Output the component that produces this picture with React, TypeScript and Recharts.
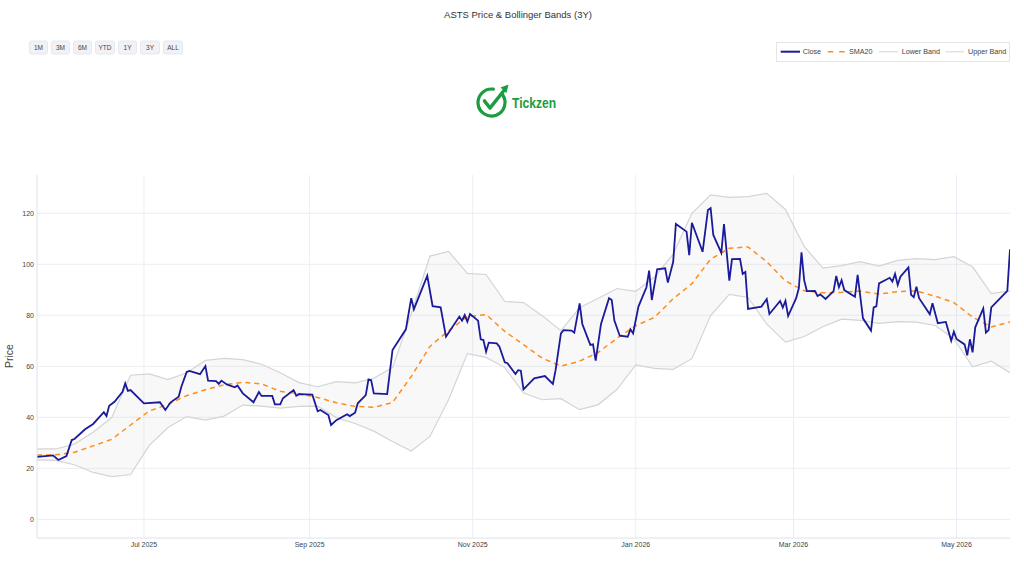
import { ComposedChart, Line, Area, XAxis, YAxis, CartesianGrid } from "recharts"

// daily closes (turning points only), grouped by month
const closeDates = [
  "2025-05-22", "2025-05-28", "2025-05-30",
  "2025-06-02", "2025-06-04", "2025-06-05", "2025-06-09", "2025-06-12", "2025-06-16", "2025-06-17", "2025-06-18", "2025-06-20", "2025-06-23", "2025-06-24", "2025-06-25", "2025-06-26",
  "2025-07-01", "2025-07-07", "2025-07-09", "2025-07-11", "2025-07-14", "2025-07-15", "2025-07-17", "2025-07-18", "2025-07-22", "2025-07-24", "2025-07-25", "2025-07-28", "2025-07-29", "2025-07-30",
  "2025-08-01", "2025-08-04", "2025-08-05", "2025-08-07", "2025-08-11", "2025-08-13", "2025-08-14", "2025-08-18", "2025-08-19", "2025-08-21", "2025-08-22", "2025-08-26", "2025-08-27", "2025-08-28",
  "2025-09-02", "2025-09-04", "2025-09-05", "2025-09-08", "2025-09-09", "2025-09-11", "2025-09-15", "2025-09-16", "2025-09-18", "2025-09-19", "2025-09-22", "2025-09-23", "2025-09-24", "2025-09-25", "2025-09-30",
  "2025-10-02", "2025-10-07", "2025-10-09", "2025-10-10", "2025-10-15", "2025-10-17", "2025-10-20", "2025-10-22", "2025-10-27", "2025-10-28", "2025-10-29", "2025-10-30", "2025-10-31",
  "2025-11-03", "2025-11-04", "2025-11-05", "2025-11-06", "2025-11-07", "2025-11-10", "2025-11-11", "2025-11-13", "2025-11-14", "2025-11-17", "2025-11-18", "2025-11-19", "2025-11-20", "2025-11-24", "2025-11-28",
  "2025-12-01", "2025-12-02", "2025-12-04", "2025-12-05", "2025-12-08", "2025-12-09", "2025-12-11", "2025-12-12", "2025-12-15", "2025-12-16", "2025-12-17", "2025-12-19", "2025-12-22", "2025-12-23", "2025-12-24", "2025-12-26", "2025-12-29", "2025-12-30", "2025-12-31",
  "2026-01-02", "2026-01-05", "2026-01-06", "2026-01-07", "2026-01-09", "2026-01-12", "2026-01-13", "2026-01-15", "2026-01-16", "2026-01-20", "2026-01-21", "2026-01-22", "2026-01-26", "2026-01-28", "2026-01-29", "2026-01-30",
  "2026-02-02", "2026-02-03", "2026-02-05", "2026-02-06", "2026-02-09", "2026-02-10", "2026-02-11", "2026-02-12", "2026-02-17", "2026-02-19", "2026-02-20", "2026-02-24", "2026-02-25", "2026-02-26", "2026-02-27",
  "2026-03-02", "2026-03-03", "2026-03-04", "2026-03-05", "2026-03-06", "2026-03-09", "2026-03-10", "2026-03-11", "2026-03-13", "2026-03-16", "2026-03-17", "2026-03-18", "2026-03-19", "2026-03-20", "2026-03-24", "2026-03-25", "2026-03-27", "2026-03-30", "2026-03-31",
  "2026-04-01", "2026-04-02", "2026-04-06", "2026-04-07", "2026-04-08", "2026-04-09", "2026-04-10", "2026-04-13", "2026-04-14", "2026-04-15", "2026-04-16", "2026-04-17", "2026-04-21", "2026-04-22", "2026-04-24", "2026-04-27", "2026-04-29", "2026-04-30",
  "2026-05-01", "2026-05-04", "2026-05-05", "2026-05-06", "2026-05-07", "2026-05-08", "2026-05-11", "2026-05-12", "2026-05-13", "2026-05-14", "2026-05-20", "2026-05-21",
]

const closePrices = [
  24.5, 25.1, 23.3,
  24.8, 31.1, 31.5, 35.3, 37.4, 42.0, 40.5, 44.5, 46.1, 50.0, 53.3, 50.4, 50.7,
  45.5, 45.9, 42.9, 45.9, 48.1, 52.0, 57.8, 58.2, 56.9, 60.1, 54.4, 54.2, 53.1, 54.4,
  52.9, 51.8, 52.5, 49.4, 45.9, 49.9, 48.4, 48.4, 45.1, 45.1, 47.5, 50.7, 48.5, 49.1,
  48.9, 42.4, 42.9, 40.9, 37.0, 38.9, 41.2, 40.5, 41.8, 45.5, 48.7, 54.9, 54.6, 49.4, 49.1,
  66.4, 74.5, 86.7, 82.4, 95.5, 83.6, 83.1, 71.6, 79.5, 77.9, 80.1, 77.5, 80.5,
  77.9, 70.6, 70.3, 65.7, 69.3, 69.0, 67.7, 61.6, 61.2, 57.0, 58.5, 58.3, 51.0, 55.3, 56.2,
  53.1, 58.5, 72.9, 74.2, 74.0, 73.2, 84.7, 76.6, 68.4, 68.6, 62.2, 76.6, 86.7, 86.0, 77.9, 72.0, 71.6, 74.5, 72.9,
  83.4, 91.0, 97.5, 86.0, 98.0, 98.4, 92.8, 101.0, 115.8, 112.8, 103.6, 116.3, 104.9, 121.3, 122.0, 111.5,
  104.5, 115.8, 93.6, 102.0, 102.1, 96.2, 97.0, 82.5, 83.4, 86.4, 80.5, 85.6, 83.0, 85.7, 79.7,
  86.7, 90.6, 104.7, 93.8, 89.5, 89.6, 87.6, 88.2, 86.4, 89.5, 95.4, 91.0, 93.8, 89.9, 87.3, 95.9, 78.8, 74.0, 83.1,
  83.5, 92.5, 94.7, 93.2, 96.2, 91.9, 95.1, 98.8, 88.0, 87.1, 91.2, 86.7, 80.4, 84.7, 76.9, 77.4, 70.0, 73.6,
  70.7, 68.6, 64.3, 70.6, 65.5, 75.3, 82.7, 73.2, 74.2, 83.1, 89.6, 105.9,
]

// weekly samples of the 20-day SMA and Bollinger bands
const bandDates = [
  "2025-05-22", "2025-05-29", "2025-06-05", "2025-06-12", "2025-06-19", "2025-06-26", "2025-07-03", "2025-07-10", "2025-07-17", "2025-07-24",
  "2025-07-31", "2025-08-07", "2025-08-14", "2025-08-21", "2025-08-28", "2025-09-04", "2025-09-11", "2025-09-18", "2025-09-25", "2025-10-02",
  "2025-10-09", "2025-10-16", "2025-10-23", "2025-10-30", "2025-11-06", "2025-11-13", "2025-11-20", "2025-11-27", "2025-12-04", "2025-12-11",
  "2025-12-18", "2025-12-25", "2026-01-01", "2026-01-08", "2026-01-15", "2026-01-22", "2026-01-29", "2026-02-05", "2026-02-12", "2026-02-19",
  "2026-02-26", "2026-03-05", "2026-03-12", "2026-03-19", "2026-03-26", "2026-04-02", "2026-04-09", "2026-04-16", "2026-04-23", "2026-04-30",
  "2026-05-07", "2026-05-14", "2026-05-21",
]

const sma20 = [
  25.2, 25.3, 26.3, 28.8, 31.4, 37.0, 42.5, 45.1, 48.5, 50.8,
  52.8, 53.7, 53.1, 50.2, 49.3, 47.8, 45.7, 44.3, 43.9, 45.8,
  56.0, 67.8, 74.0, 79.5, 80.3, 73.7, 68.5, 63.2, 60.1, 62.0,
  65.5, 71.0, 75.9, 79.2, 86.5, 92.4, 102.0, 106.3, 106.8, 101.0,
  93.5, 89.6, 88.8, 89.0, 89.5, 88.3, 89.3, 89.5, 87.5, 85.0,
  79.3, 75.4, 77.4,
]

const upperBand = [
  27.6, 27.6, 29.5, 34.2, 40.0, 56.5, 57.0, 54.8, 57.5, 62.3,
  63.1, 62.6, 60.8, 57.5, 53.6, 52.0, 54.0, 53.5, 55.3, 59.5,
  80.5, 103.2, 105.0, 96.4, 96.0, 85.4, 85.0, 79.8, 74.0, 83.0,
  86.7, 90.5, 89.4, 95.0, 104.0, 120.0, 127.2, 126.2, 126.5, 127.8,
  121.5, 107.0, 98.5, 99.5, 101.0, 99.3, 101.5, 102.2, 101.8, 103.0,
  99.0, 88.5, 89.6,
]

const lowerBand = [
  23.3, 23.1, 21.4, 18.4, 16.8, 17.6, 29.0, 36.0, 40.3, 38.9,
  40.5, 44.8, 44.4, 43.6, 44.3, 44.4, 39.9, 37.6, 34.6, 30.5,
  26.8, 32.5, 47.0, 65.0, 63.5, 59.5, 49.5, 46.9, 47.3, 43.0,
  45.0, 51.0, 60.6, 59.2, 58.8, 63.0, 79.9, 88.2, 87.0, 76.5,
  69.5, 71.7, 75.5, 78.5, 78.0, 76.8, 77.5, 77.3, 76.0, 70.8,
  59.8, 62.0, 57.5,
]

const xTickDates = ["2025-07-01", "2025-09-01", "2025-11-01", "2026-01-01", "2026-03-01", "2026-05-01"]
const yTicks = [0, 20, 40, 60, 80, 100, 120]
const rangeButtons = ["1M", "3M", "6M", "YTD", "1Y", "3Y", "ALL"]

const MONTHS = ["Jan", "Feb", "Mar", "Apr", "May", "Jun", "Jul", "Aug", "Sep", "Oct", "Nov", "Dec"]
const ts = (d: string) => Date.parse(d)
const fmtMonth = (t: number) => {
  const d = new Date(t)
  return `${MONTHS[d.getUTCMonth()]} ${d.getUTCFullYear()}`
}

const closeRows = closeDates.map((d, i) => ({ t: ts(d), close: closePrices[i] }))
const bandRows = bandDates.map((d, i) => ({
  t: ts(d),
  sma: sma20[i],
  lower: lowerBand[i],
  upper: upperBand[i],
  band: [lowerBand[i], upperBand[i]],
}))
const xTicks = xTickDates.map(ts)

const FONT = '"Liberation Sans", Arial, Helvetica, sans-serif'
const NAVY = "#1a1a9a"
const ORANGE = "#ff8c1a"
const BAND = "#d4d4d4"
const GREEN = "#1c9c40"

// grid only at the tick values, no frame lines at the plot edges
const scaleOf = (axis: any) => {
  const s = axis?.scale
  if (typeof s === "function") return s
  if (s && typeof s.map === "function") return (v: number) => s.map(v)
  return null
}
const hGrid = ({ yAxis }: any) => {
  const s = scaleOf(yAxis)
  return s ? yTicks.map((v) => s(v)) : []
}
const vGrid = ({ xAxis }: any) => {
  const s = scaleOf(xAxis)
  return s ? xTicks.map((v) => s(v)) : []
}

function RangeSelector() {
  const widths = rangeButtons.map((b) => (b.length > 2 || b === "3Y" ? 19 : 18))
  let x = 0.5
  return (
    <svg style={{ position: "absolute", left: 29, top: 40 }} width={160} height={16}>
      {rangeButtons.map((b, i) => {
        const bx = x
        x += widths[i] + 4
        return (
          <g key={b}>
            <rect x={bx} y={1} width={widths[i]} height={13} rx={2} fill="#f0f2f5" stroke="#e0e3e8" strokeWidth={0.8} />
            <text x={bx + widths[i] / 2} y={10} textAnchor="middle" fontSize={6.5} fill="#444" fontFamily={FONT}>
              {b}
            </text>
          </g>
        )
      })}
    </svg>
  )
}

function LegendBox() {
  return (
    <svg style={{ position: "absolute", left: 776, top: 42 }} width={235} height={21}>
      <rect x={0.5} y={0.5} width={233} height={19} fill="#fff" stroke="#e4e4e4" strokeWidth={1} />
      <line x1={4.7} x2={24} y1={9.7} y2={9.7} stroke={NAVY} strokeWidth={2} />
      <text x={26.7} y={12.2} fontSize={7.2} fill="#444" fontFamily={FONT}>Close</text>
      <line x1={51.7} x2={69} y1={9.7} y2={9.7} stroke={ORANGE} strokeWidth={1.6} strokeDasharray="5.5 6" />
      <text x={73} y={12.2} fontSize={7.2} fill="#444" fontFamily={FONT}>SMA20</text>
      <line x1={103} x2={122} y1={9.7} y2={9.7} stroke="#e2e2e2" strokeWidth={1.5} />
      <text x={125.7} y={12.2} fontSize={7.2} fill="#444" fontFamily={FONT}>Lower Band</text>
      <line x1={169.7} x2={188} y1={9.7} y2={9.7} stroke="#e2e2e2" strokeWidth={1.5} />
      <text x={192} y={12.2} fontSize={7.2} fill="#444" fontFamily={FONT}>Upper Band</text>
    </svg>
  )
}

function Logo() {
  // check-circle mark with an upward arrow, followed by the wordmark
  const cx = 21.5
  const cy = 24.5
  const r = 13.5
  const pt = (deg: number) => {
    const a = (deg * Math.PI) / 180
    return `${cx + r * Math.cos(a)} ${cy + r * Math.sin(a)}`
  }
  return (
    <svg style={{ position: "absolute", left: 470, top: 78 }} width={100} height={45}>
      <path d={`M ${pt(-35)} A ${r} ${r} 0 1 1 ${pt(-82)}`} fill="none" stroke={GREEN} strokeWidth={3.2} strokeLinecap="round" />
      <polyline points="14.5,23 20,30 34,12.5" fill="none" stroke={GREEN} strokeWidth={3.6} strokeLinecap="round" strokeLinejoin="round" />
      <polygon points="38.5,6.5 30.5,9.5 36.5,15" fill={GREEN} />
      <text x={42} y={29.5} fontSize={14} fontWeight="bold" fill={GREEN} fontFamily={FONT} textLength={44} lengthAdjust="spacingAndGlyphs">
        Tickzen
      </text>
    </svg>
  )
}

export default function App() {
  const xDomain = [ts(closeDates[0]), ts(closeDates[closeDates.length - 1])]
  return (
    <div style={{ position: "absolute", left: 0, top: 0, width: 1024, height: 576, background: "#fff", fontFamily: FONT }}>
      <ComposedChart width={1024} height={576} margin={{ top: 175, right: 14, bottom: 0, left: 0 }}>
        <CartesianGrid
          stroke="#eaeef4"
          strokeWidth={1}
          horizontalCoordinatesGenerator={hGrid}
          verticalCoordinatesGenerator={vGrid}
        />
        <XAxis
          dataKey="t"
          type="number"
          domain={xDomain}
          allowDataOverflow
          ticks={xTicks}
          tickFormatter={fmtMonth}
          height={38}
          tickLine={false}
          tickSize={0}
          tickMargin={4}
          axisLine={{ stroke: "#dde2ea" }}
          tick={{ fontSize: 7, fill: "#444", fontFamily: FONT }}
        />
        <YAxis
          type="number"
          domain={[-7.3, 135]}
          allowDataOverflow
          ticks={yTicks}
          width={37}
          tickLine={false}
          tickSize={0}
          tickMargin={3}
          axisLine={{ stroke: "#dde2ea" }}
          tick={{ fontSize: 7, fill: "#444", fontFamily: FONT }}
        />
        <Area
          data={bandRows}
          dataKey="band"
          type="linear"
          stroke="none"
          fill="#c8c8c8"
          fillOpacity={0.13}
          isAnimationActive={false}
        />
        <Line data={bandRows} dataKey="lower" name="Lower Band" type="linear" stroke={BAND} strokeWidth={1.2} dot={false} isAnimationActive={false} />
        <Line data={bandRows} dataKey="upper" name="Upper Band" type="linear" stroke={BAND} strokeWidth={1.2} dot={false} isAnimationActive={false} />
        <Line
          data={bandRows}
          dataKey="sma"
          name="SMA20"
          type="linear"
          stroke={ORANGE}
          strokeWidth={1.5}
          strokeDasharray="5 4"
          dot={false}
          isAnimationActive={false}
        />
        <Line data={closeRows} dataKey="close" name="Close" type="linear" stroke={NAVY} strokeWidth={1.8} dot={false} isAnimationActive={false} />
      </ComposedChart>

      <div style={{ position: "absolute", left: 0, top: 9, width: 1036, textAlign: "center", fontSize: 9.5, color: "#333" }}>
        ASTS Price &amp; Bollinger Bands (3Y)
      </div>
      <RangeSelector />
      <LegendBox />
      <Logo />
      <div
        style={{
          position: "absolute",
          left: 9,
          top: 356,
          transform: "translate(-50%, -50%) rotate(-90deg)",
          fontSize: 10.5,
          color: "#444",
          whiteSpace: "nowrap",
        }}
      >
        Price
      </div>
    </div>
  )
}
